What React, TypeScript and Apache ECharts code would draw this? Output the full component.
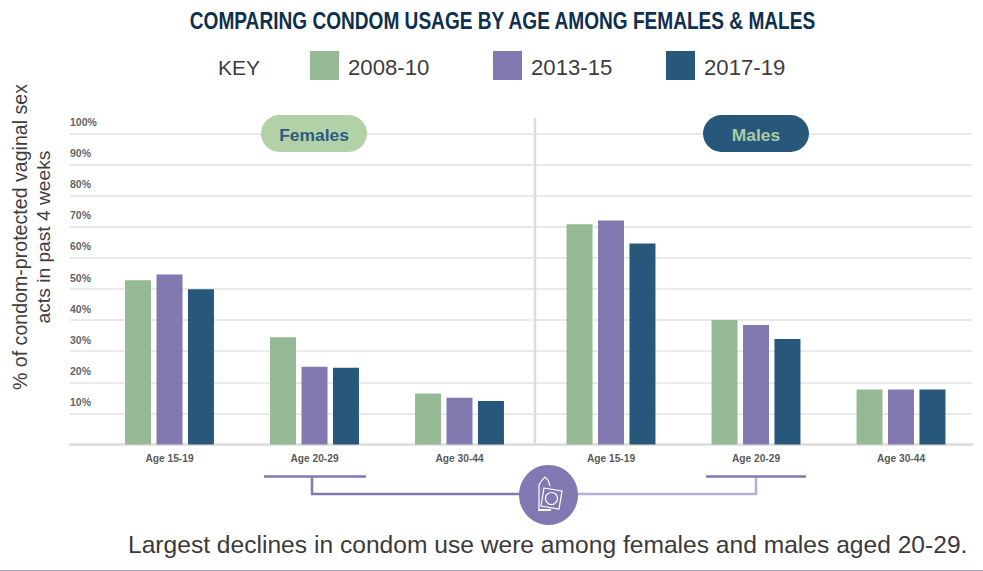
import React, { useEffect, useRef } from "react";
import * as echarts from "echarts";

const ageGroups = ["Age 15-19", "Age 20-29", "Age 30-44"];
const periods = ["2008-10", "2013-15", "2017-19"];
const periodColors = ["#95b995", "#8279b1", "#27587c"];
const females2008 = [52.8, 34.5, 16.4];
const females2013 = [54.7, 25, 15];
const females2017 = [49.9, 24.7, 14];
const males2008 = [70.8, 40, 17.7];
const males2013 = [72, 38.4, 17.7];
const males2017 = [64.6, 33.9, 17.7];
const yTicks = [0, 10, 20, 30, 40, 50, 60, 70, 80, 90, 100];

const title = "COMPARING CONDOM USAGE BY AGE AMONG FEMALES & MALES";
const note = "Largest declines in condom use were among females and males aged 20-29.";
const sans = "'Liberation Sans', Arial, sans-serif";
const purple = "#8279b3";
const lightPurple = "#b6b0d9";

const makeSeries = (values: number[][], axisIndex: number) =>
  values.map((data, i) => ({
    type: "bar" as const,
    name: periods[i],
    xAxisIndex: axisIndex,
    yAxisIndex: axisIndex,
    data,
    barWidth: 26,
    barGap: "21%",
    itemStyle: { color: periodColors[i] },
    z: 5,
  }));

const line = (x1: number, y1: number, x2: number, y2: number, stroke: string, lineWidth = 2.5) => ({
  type: "line",
  shape: { x1, y1, x2, y2 },
  style: { stroke, lineWidth },
  z: 6,
});

const pill = (x: number, text: string, fill: string, textFill: string) => [
  { type: "rect", shape: { x, y: 115, width: 106, height: 37, r: 18.5 }, style: { fill }, z: 7 },
  {
    type: "text",
    x: x + 53,
    y: 134.5,
    style: { text, fill: textFill, font: `bold 17.4px ${sans}`, align: "center", verticalAlign: "middle" },
    z: 8,
  },
];

export default function App() {
  const ref = useRef<HTMLDivElement>(null);
  useEffect(() => {
    document.body.style.margin = "0";
    document.body.style.background = "#fff";
    const chart = echarts.init(ref.current!, undefined, { renderer: "svg" });
    const legendLefts = [310, 493, 666];
    chart.setOption({
      animation: false,
      backgroundColor: "#fff",
      legend: periods.map((p, i) => ({
        data: [{ name: p, icon: "rect" }],
        left: legendLefts[i],
        top: 51,
        itemWidth: 29,
        itemHeight: 29,
        padding: 0,
        selectedMode: false,
        formatter: "{t|{name}}",
        textStyle: {
          rich: {
            t: { fontFamily: sans, fontSize: 22.2, color: "#3f3d3d", padding: [3, 0, 0, 4], lineHeight: 26 },
          },
        },
      })),
      grid: [
        { left: 70, width: 902, top: 133.5, height: 311 },
        { left: 97, width: 435, top: 133.5, height: 311 },
        { left: 538.5, width: 435, top: 133.5, height: 311 },
      ],
      xAxis: [
        { gridIndex: 0, type: "value", min: 0, max: 1, axisLabel: { show: false }, axisTick: { show: false }, splitLine: { show: false }, axisLine: { show: true, lineStyle: { color: "#dedede", width: 2.5 } } },
        ...[1, 2].map((g) => ({
          gridIndex: g,
          type: "category",
          data: ageGroups,
          axisLine: { show: false },
          axisTick: { show: false },
          axisLabel: { margin: 9, fontFamily: sans, fontWeight: "bold", fontSize: 10.2, color: "#5a5a5a" },
        })),
      ],
      yAxis: [
        {
          gridIndex: 0,
          type: "value",
          min: 0,
          max: 100,
          interval: 10,
          axisLine: { show: false },
          axisTick: { show: false },
          splitLine: { lineStyle: { color: "#e2e2e2", width: 1.5 } },
          axisLabel: {
            inside: true,
            margin: 0,
            verticalAlign: "bottom",
            align: "left",
            padding: [0, 0, 6, 0],
            fontFamily: sans,
            fontWeight: "bold",
            fontSize: 10.5,
            color: "#666",
            formatter: (v: number) => (yTicks.includes(v) && v > 0 ? `${v}%` : ""),
          },
        },
        ...[1, 2].map((g) => ({ gridIndex: g, type: "value", min: 0, max: 100, show: false, splitLine: { show: false } })),
      ],
      series: [
        ...makeSeries([females2008, females2013, females2017], 1),
        ...makeSeries([males2008, males2013, males2017], 2),
      ],
      graphic: [
        { type: "text", x: 502.5, y: 20.5, scaleX: 0.83, style: { text: title, font: `bold 23px ${sans}`, fill: "#0f2f4e", align: "center", verticalAlign: "middle" } },
        { type: "text", x: 218, y: 67, style: { text: "KEY", font: `21px ${sans}`, fill: "#3f3d3d", verticalAlign: "middle" } },
        { type: "text", x: 20, y: 237, rotation: Math.PI / 2, style: { text: "% of condom-protected vaginal sex", font: `19.6px ${sans}`, fill: "#3f3d3d", align: "center", verticalAlign: "middle" } },
        { type: "text", x: 43, y: 237, rotation: Math.PI / 2, style: { text: "acts in past 4 weeks", font: `19.2px ${sans}`, fill: "#3f3d3d", align: "center", verticalAlign: "middle" } },
        line(535, 118, 535, 444, "#dcdcdc", 2.5),
        ...pill(261, "Females", "#b2d1a6", "#2c5a80"),
        ...pill(703, "Males", "#27587c", "#a9cda0"),
        line(264, 476.5, 366, 476.5, purple),
        line(312, 476, 312, 495, purple),
        line(311, 494, 522, 494, purple),
        line(576, 494, 757, 494, lightPurple),
        line(756, 477, 756, 495, lightPurple),
        line(706, 476.5, 806, 476.5, purple),
        { type: "ellipse", shape: { cx: 548.5, cy: 495, rx: 29.5, ry: 30 }, style: { fill: purple }, z: 7 },
        {
          type: "polyline",
          shape: { points: [[539, 510], [539, 485], [542, 480], [545, 477], [548, 480], [550, 486]] },
          style: { stroke: "#fff", lineWidth: 1.2, fill: "none" },
          z: 8,
        },
        { type: "line", shape: { x1: 538, y1: 510, x2: 551, y2: 510 }, style: { stroke: "#fff", lineWidth: 2 }, z: 8 },
        {
          type: "polygon",
          shape: { points: [[544, 488], [562, 491], [559, 509], [541, 506]] },
          style: { stroke: "#fff", lineWidth: 1.2, fill: purple },
          z: 8,
        },
        { type: "circle", shape: { cx: 551.5, cy: 498.5, r: 6 }, style: { stroke: "#fff", lineWidth: 1.1, fill: "none" }, z: 9 },
        { type: "text", x: 128, y: 544, style: { text: note, font: `24.6px ${sans}`, fill: "#3c3a3a", verticalAlign: "middle" } },
        line(0, 570.5, 983, 570.5, "#aaa4d0", 1),
      ],
    });
    return () => chart.dispose();
  }, []);
  return <div ref={ref} style={{ width: 983, height: 571 }} />;
}
